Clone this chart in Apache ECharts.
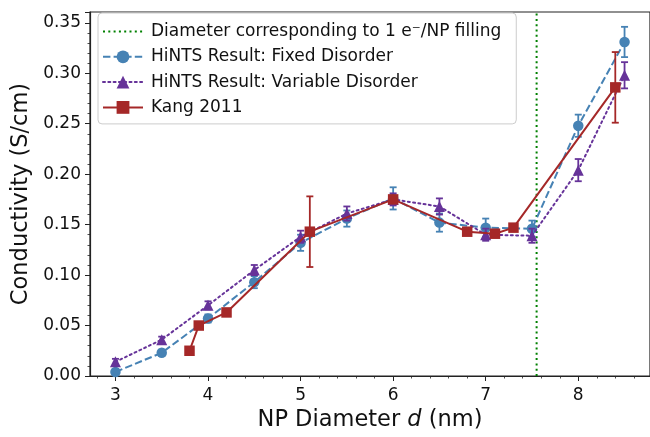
<!DOCTYPE html>
<html><head><meta charset="utf-8">
<script src="https://cdn.jsdelivr.net/npm/echarts@6/dist/echarts.min.js"></script>
<style>html,body{margin:0;padding:0;background:#fff;}#c{width:650px;height:437px;}</style>
</head><body><div id="c"></div>
<script>
// ---- data ----
const xFixed = [3, 3.5, 4, 4.5, 5, 5.5, 6, 6.5, 7, 7.5, 8, 8.5];
const yFixed = [0.004, 0.023, 0.057, 0.093, 0.132, 0.156, 0.176, 0.152, 0.147, 0.146, 0.248, 0.331];
const eFixed = [0.003, 0.003, 0.004, 0.006, 0.008, 0.008, 0.011, 0.009, 0.009, 0.008, 0.011, 0.015];
const xVar = [3, 3.5, 4, 4.5, 5, 5.5, 6, 6.5, 7, 7.5, 8, 8.5];
const yVar = [0.014, 0.036, 0.070, 0.105, 0.138, 0.161, 0.175, 0.168, 0.140, 0.139, 0.204, 0.298];
const eVar = [0.003, 0.003, 0.004, 0.005, 0.006, 0.007, 0.006, 0.008, 0.006, 0.007, 0.011, 0.013];
const xKang = [3.8, 3.9, 4.2, 5.1, 6.0, 6.8, 7.1, 7.3, 8.4];
const yKang = [0.025, 0.050, 0.063, 0.143, 0.175, 0.143, 0.141, 0.147, 0.286];
const eKang = [0, 0, 0, 0.035, 0, 0, 0, 0, 0.035];
const fillDiameter = 7.55;
const xTicks = [3, 4, 5, 6, 7, 8];
const xMinorTicks = [2.8, 3.2, 3.4, 3.6, 3.8, 4.2, 4.4, 4.6, 4.8, 5.2, 5.4, 5.6, 5.8, 6.2, 6.4, 6.6, 6.8, 7.2, 7.4, 7.6, 7.8, 8.2, 8.4, 8.6];
const names = ['Diameter corresponding to 1 e\u207B/NP filling', 'HiNTS Result: Fixed Disorder', 'HiNTS Result: Variable Disorder', 'Kang 2011'];
const colors = ['#008000', '#4682b4', '#663399', '#a52828'];

const X_MIN = 2.725, X_MAX = 8.775, Y_MIN = 0, Y_MAX = 0.3607;
const FONT = 'DejaVu Sans';

function zip(xs, ys) { return xs.map((x, i) => [x, ys[i]]); }
function errData(xs, ys, es) { return xs.map((x, i) => [x, ys[i] - es[i], ys[i] + es[i]]); }

function errSeries(name, color, data, z) {
  return {
    type: 'custom', name: name, z: z, silent: true,
    data: data,
    renderItem: function (params, api) {
      if (api.value(2) - api.value(1) <= 0) return null;
      const lo = api.coord([api.value(0), api.value(1)]);
      const hi = api.coord([api.value(0), api.value(2)]);
      const cap = 3.5;
      const st = { stroke: color, lineWidth: 1.8 };
      return {
        type: 'group', children: [
          { type: 'line', shape: { x1: lo[0], y1: lo[1], x2: hi[0], y2: hi[1] }, style: st },
          { type: 'line', shape: { x1: lo[0] - cap, y1: lo[1], x2: lo[0] + cap, y2: lo[1] }, style: st },
          { type: 'line', shape: { x1: hi[0] - cap, y1: hi[1], x2: hi[0] + cap, y2: hi[1] }, style: st }
        ]
      };
    }
  };
}

const chart = echarts.init(document.getElementById('c'), null, { renderer: 'canvas' });
const option = {
  animation: false,
  backgroundColor: '#fff',
  textStyle: { fontFamily: FONT },
  grid: { left: 90, top: 12, width: 562.6, height: 372, show: true, borderColor: '#222', borderWidth: 1.2, containLabel: false },
  legend: {
    orient: 'vertical', left: 98, top: 13,
    padding: [10, 15, 8, 4], itemGap: 8.3, itemWidth: 40, itemHeight: 16,
    backgroundColor: 'rgba(255,255,255,0.85)', borderColor: '#ccc', borderWidth: 1, borderRadius: 4,
    textStyle: { fontFamily: FONT, fontSize: 17, color: '#111', padding: [0, 0, 0, 3] },
    data: [
      { name: names[0], itemStyle: { opacity: 0 } },
      { name: names[1] }, { name: names[2] }, { name: names[3] }
    ]
  },
  xAxis: [{
    type: 'value', min: X_MIN, max: X_MAX,
    name: '{n|NP Diameter }{i|d}{n| (nm)}', nameLocation: 'middle', nameGap: 33,
    nameTextStyle: { rich: { n: { fontFamily: FONT, fontSize: 22.5, color: '#111' }, i: { fontFamily: FONT, fontSize: 22.5, fontStyle: 'italic', color: '#111' } } },
    axisLine: { show: true, onZero: false, lineStyle: { color: '#222', width: 1.2 } },
    axisTick: { show: true, inside: false, length: 5, customValues: xTicks, lineStyle: { color: '#222', width: 1 } },
    axisLabel: { customValues: xTicks, fontFamily: FONT, fontSize: 17, color: '#111', margin: 11 },
    splitLine: { show: false }
  }, {
    type: 'value', min: X_MIN, max: X_MAX, position: 'bottom', gridIndex: 0,
    axisLine: { show: false },
    axisTick: { show: true, length: 2.5, customValues: xMinorTicks, lineStyle: { color: '#222', width: 0.8 } },
    axisLabel: { show: false }, splitLine: { show: false }
  }],
  yAxis: {
    type: 'value', min: Y_MIN, max: Y_MAX, interval: 0.05,
    name: 'Conductivity (S/cm)', nameLocation: 'middle', nameGap: 54,
    nameTextStyle: { fontFamily: FONT, fontSize: 22.5, color: '#111' },
    axisLine: { show: true, lineStyle: { color: '#222', width: 1.2 } },
    axisTick: { show: true, length: 5, lineStyle: { color: '#222', width: 1 } },
    minorTick: { show: true, splitNumber: 5, length: 2.5, lineStyle: { color: '#222', width: 0.8 } },
    axisLabel: { fontFamily: FONT, fontSize: 17, color: '#111', margin: 9, showMaxLabel: false, formatter: v => v.toFixed(2) },
    splitLine: { show: false }
  },
  series: [
    {
      type: 'line', name: names[0], data: [[fillDiameter, Y_MIN], [fillDiameter, Y_MAX]],
      symbol: 'none', z: 1, color: colors[0],
      lineStyle: { color: colors[0], width: 2, type: [2, 3.3] }
    },
    {
      type: 'line', name: names[1], data: zip(xFixed, yFixed), z: 3, color: colors[1],
      symbol: 'circle', symbolSize: 10.5, itemStyle: { color: colors[1] },
      lineStyle: { color: colors[1], width: 2, type: [7.4, 3.2] }
    },
    {
      type: 'line', name: names[2], data: zip(xVar, yVar), z: 5, color: colors[2],
      symbol: 'triangle', symbolSize: [11, 11], itemStyle: { color: colors[2] },
      lineStyle: { color: colors[2], width: 2, type: [2, 3.3], cap: 'round' }
    },
    {
      type: 'line', name: names[3], data: zip(xKang, yKang), z: 7, color: colors[3],
      symbol: 'rect', symbolSize: 10.5, itemStyle: { color: colors[3] },
      lineStyle: { color: colors[3], width: 2, type: 'solid' }
    },
    errSeries(names[1], colors[1], errData(xFixed, yFixed, eFixed), 2),
    errSeries(names[2], colors[2], errData(xVar, yVar, eVar), 4),
    errSeries(names[3], colors[3], errData(xKang, yKang, eKang), 6)
  ]
};
chart.setOption(option);
</script></body></html>
